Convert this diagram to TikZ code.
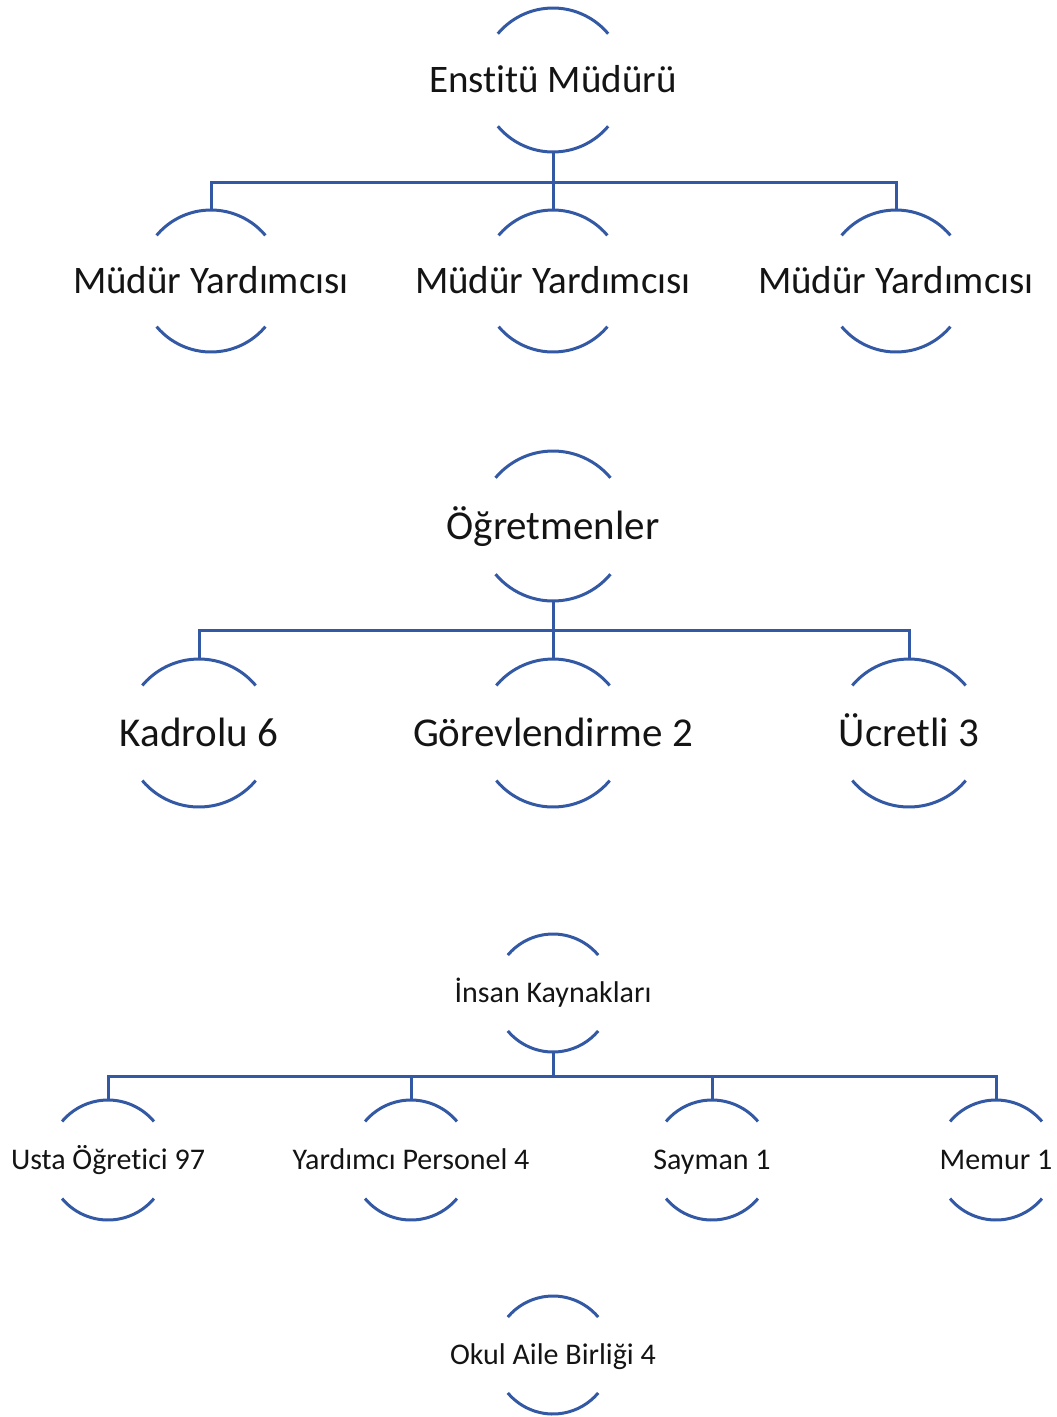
\documentclass[tikz,border=0pt]{standalone}
\usepackage{fontspec}
\setmainfont[Ligatures=NoCommon]{Carlito}
\definecolor{lncol}{RGB}{52,89,164}
\definecolor{txcol}{RGB}{20,20,20}
\tikzset{
  ln/.style={draw=lncol, line width=3pt},
  lbl/.style={inner sep=0pt, text=txcol},
}
% name, x, y(pixel, downward), radius, font size, text
\newcommand{\bub}[6]{%
  \node[lbl, font=\fontsize{#5}{#5}\selectfont, anchor=base] (#1) at (#2,{-#3-0.32*#5}) {#6};
  \coordinate (#1-c) at (#2,-#3);
  \coordinate (#1-t) at (#2,{-#3+#4});
  \coordinate (#1-b) at (#2,{-#3-#4});
  \draw[ln] ([shift={(40:#4pt)}]#1-c) arc[start angle=40,end angle=140,radius=#4pt];
  \draw[ln] ([shift={(220:#4pt)}]#1-c) arc[start angle=220,end angle=320,radius=#4pt];
}
\begin{document}
\begin{tikzpicture}[x=1pt,y=1pt]
\useasboundingbox (0,0) rectangle (1057,-1417);
% group 1
\bub{em}{553}{80}{72}{39}{Enstitü Müdürü}
\bub{my1}{211}{281}{71}{39}{Müdür Yardımcısı}
\bub{my2}{553}{281}{71}{39}{Müdür Yardımcısı}
\bub{my3}{896}{281}{71}{39}{Müdür Yardımcısı}
\coordinate (bus1) at (0,-182);
\draw[ln] (em-b) -- (my2-t);
\draw[ln] (my1-t) -- (my1-t |- bus1) -- (my3-t |- bus1) -- (my3-t);
% group 2
\bub{og}{553}{526}{75}{41}{Öğretmenler}
\bub{ka}{199}{733}{74}{41}{Kadrolu 6}
\bub{go}{553}{733}{74}{41}{Görevlendirme 2}
\bub{uc}{909}{733}{74}{41}{Ücretli 3}
\coordinate (bus2) at (0,-630);
\draw[ln] (og-b) -- (go-t);
\draw[ln] (ka-t) -- (ka-t |- bus2) -- (uc-t |- bus2) -- (uc-t);
% group 3
\bub{ik}{553}{993}{59}{30}{İnsan Kaynakları}
\bub{us}{108}{1160}{60}{30}{Usta Öğretici 97}
\bub{yp}{411}{1160}{60}{30}{Yardımcı Personel 4}
\bub{sa}{712}{1160}{60}{30}{Sayman 1}
\bub{me}{996}{1160}{60}{30}{Memur 1}
\coordinate (bus3) at (0,-1076);
\draw[ln] (ik-b) -- (ik-b |- bus3);
\draw[ln] (us-t) -- (us-t |- bus3) -- (me-t |- bus3) -- (me-t);
\draw[ln] (yp-t) -- (yp-t |- bus3);
\draw[ln] (sa-t) -- (sa-t |- bus3);
% group 4
\bub{oa}{553}{1355}{59}{30}{Okul Aile Birliği 4}
\end{tikzpicture}
\end{document}
